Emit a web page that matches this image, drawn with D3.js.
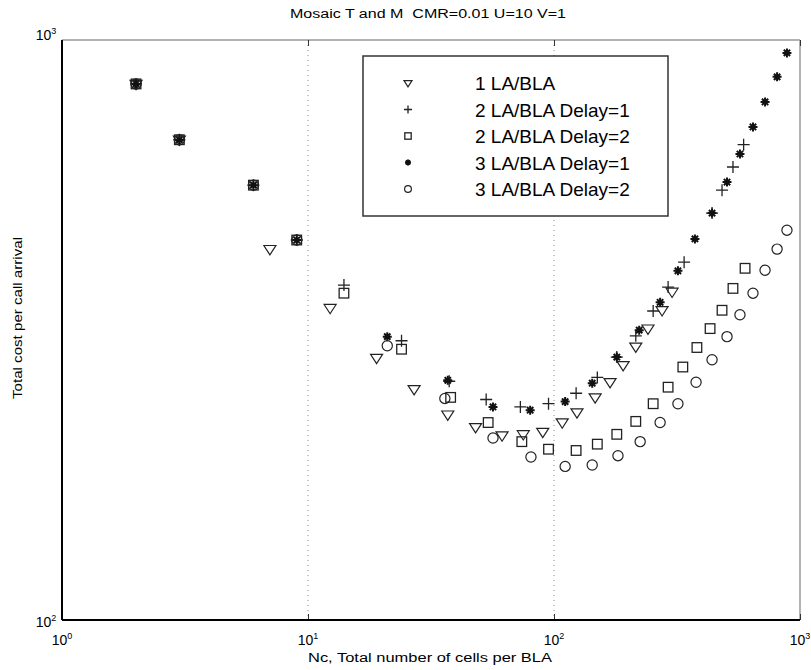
<!DOCTYPE html>
<html>
<head>
<meta charset="utf-8">
<script src="https://cdn.jsdelivr.net/npm/d3@7"></script>
<style>
  body { margin: 0; background: #fff; }
  text { font-family: "Liberation Sans", Arial, sans-serif; fill: #000; white-space: pre; }
</style>
</head>
<body>
<script>
// 1 LA/BLA (triangles)
var tri_x = [2, 3, 7, 12.3, 19, 27, 37, 48, 61.5, 75, 90, 108, 124, 147, 169, 191, 215, 241, 275, 302];
var tri_y = [840, 673, 436, 345, 283, 250, 226, 215, 208, 209, 211, 219, 228, 242, 257, 275, 296, 318, 342, 368];
// 2 LA/BLA Delay=1 (plus)
var plus_x = [2, 3, 6, 9, 14, 24, 37.5, 53, 73, 95, 123, 150, 180, 215, 253, 291, 338, 439, 482, 534, 590];
var plus_y = [840, 673, 562, 452, 378, 303, 258, 240, 233, 236, 246, 262, 284, 309, 341, 375, 414, 503, 551, 604, 660];
// 2 LA/BLA Delay=2 (squares)
var sq_x = [2, 3, 6, 9, 14, 24, 38, 54, 74, 95, 123, 150, 180, 215, 253, 291, 334, 381, 431, 482, 534, 598];
var sq_y = [840, 673, 562, 452, 366, 293, 242, 219, 203, 197, 196, 201, 209, 220, 236, 252, 273, 295, 318, 342, 373, 404];
// 3 LA/BLA Delay=1 (stars)
var star_x = [2, 3, 6, 9, 21, 37, 56.5, 80, 111, 143, 180, 222, 270, 319, 374, 439, 505, 570, 644, 721, 807, 885];
var star_y = [840, 673, 562, 452, 308, 259, 233, 230, 238, 256, 284, 316, 353, 400, 454, 503, 569, 636, 708, 782, 864, 950];
// 3 LA/BLA Delay=2 (circles)
var circ_x = [2, 3, 6, 9, 21, 36, 56.5, 80.6, 111, 143, 182, 224, 270, 319, 378, 439, 505, 570, 644, 721, 807, 885];
var circ_y = [840, 673, 562, 452, 297, 241, 206, 191, 184, 185, 192, 203, 219, 236, 257, 281, 308, 336, 366, 401, 436, 470];

var seriesNames = ["1 LA/BLA", "2 LA/BLA Delay=1", "2 LA/BLA Delay=2", "3 LA/BLA Delay=1", "3 LA/BLA Delay=2"];
var seriesKinds = ["tri", "plus", "square", "star", "circle"];
var xTicks = [1, 10, 100, 1000];
var yTicks = [100, 1000];

var series = [
  {kind: "tri", x: tri_x, y: tri_y},
  {kind: "plus", x: plus_x, y: plus_y},
  {kind: "square", x: sq_x, y: sq_y},
  {kind: "star", x: star_x, y: star_y},
  {kind: "circle", x: circ_x, y: circ_y}
];

var W = 811, H = 670;
var margin = {top: 40, right: 11, bottom: 50, left: 62};
var width = W - margin.left - margin.right;
var height = H - margin.top - margin.bottom;

var xScale = d3.scaleLog().domain([1, 1000]).range([0, width]);
var yScale = d3.scaleLog().domain([100, 1000]).range([height, 0]);

var svg = d3.select("body").append("svg")
    .attr("width", W)
    .attr("height", H);
var g = svg.append("g")
    .attr("transform", "translate(" + margin.left + "," + margin.top + ")");

// dotted grid at decades (x only)
g.selectAll(".grid")
    .data(xTicks.slice(1, -1))
  .enter().append("line")
    .attr("x1", function(d) { return xScale(d); })
    .attr("x2", function(d) { return xScale(d); })
    .attr("y1", 0).attr("y2", height)
    .attr("stroke", "#888")
    .attr("stroke-width", 1)
    .attr("stroke-dasharray", "1,4");

// frame: top/right grey, left/bottom black
g.append("line").attr("x1", 0).attr("x2", width).attr("y1", 0).attr("y2", 0)
    .attr("stroke", "#999").attr("stroke-width", 1.5);
g.append("line").attr("x1", width).attr("x2", width).attr("y1", 0).attr("y2", height)
    .attr("stroke", "#999").attr("stroke-width", 1.5);

// inward ticks
var xAxisB = d3.axisBottom(xScale).tickValues(xTicks).tickSize(-6).tickFormat("");
var xAxisT = d3.axisTop(xScale).tickValues(xTicks).tickSize(-6).tickFormat("");
g.append("g").attr("transform", "translate(0," + height + ")").call(xAxisB)
    .call(function(s) { s.select(".domain").remove(); s.selectAll("line").attr("stroke", "#333"); });
g.append("g").call(xAxisT)
    .call(function(s) { s.select(".domain").remove(); s.selectAll("line").attr("stroke", "#333"); });

g.append("line").attr("x1", 0).attr("x2", 0).attr("y1", 0).attr("y2", height)
    .attr("stroke", "#000").attr("stroke-width", 2);
g.append("line").attr("x1", 0).attr("x2", width).attr("y1", height).attr("y2", height)
    .attr("stroke", "#000").attr("stroke-width", 2);

function powLabel(sel, exp) {
  sel.append("tspan").text("10");
  sel.append("tspan").attr("dy", -6).attr("font-size", 9).text(exp);
}

xTicks.forEach(function(t) {
  var tx = g.append("text")
      .attr("x", xScale(t))
      .attr("y", height + 25)
      .attr("text-anchor", "middle")
      .attr("font-size", 14)
      .attr("fill", "#222");
  powLabel(tx, Math.round(Math.log10(t)));
});
yTicks.forEach(function(t) {
  var ty = g.append("text")
      .attr("x", -16)
      .attr("y", yScale(t) + (t === 100 ? 7 : 0))
      .attr("text-anchor", "middle")
      .attr("font-size", 14)
      .attr("fill", "#222");
  powLabel(ty, Math.round(Math.log10(t)));
});

// titles
svg.append("text")
    .attr("x", 428).attr("y", 18)
    .attr("text-anchor", "middle")
    .attr("font-size", 12)
    .attr("textLength", 276).attr("lengthAdjust", "spacingAndGlyphs")
    .text("Mosaic T and M  CMR=0.01 U=10 V=1");
svg.append("text")
    .attr("x", 430).attr("y", 662)
    .attr("text-anchor", "middle")
    .attr("font-size", 12)
    .attr("textLength", 244).attr("lengthAdjust", "spacingAndGlyphs")
    .text("Nc, Total number of cells per BLA");
svg.append("text")
    .attr("transform", "translate(22,318) rotate(-90)")
    .attr("text-anchor", "middle")
    .attr("font-size", 12)
    .attr("textLength", 162).attr("lengthAdjust", "spacingAndGlyphs")
    .text("Total cost per call arrival");

// marker drawing
function drawMarker(sel, kind, r) {
  if (kind === "tri") {
    sel.append("path")
        .attr("d", "M" + (-r) + "," + (-r * 0.6) + "L" + r + "," + (-r * 0.6) + "L0," + (r * 0.95) + "Z")
        .attr("fill", "none").attr("stroke", "#222").attr("stroke-width", 1.2);
  } else if (kind === "plus") {
    sel.append("path")
        .attr("d", "M" + (-r) + ",0H" + r + "M0," + (-r) + "V" + r)
        .attr("fill", "none").attr("stroke", "#222").attr("stroke-width", 1.3);
  } else if (kind === "square") {
    var s = r * 0.8;
    sel.append("rect")
        .attr("x", -s).attr("y", -s).attr("width", 2 * s).attr("height", 2 * s)
        .attr("fill", "none").attr("stroke", "#222").attr("stroke-width", 1.3);
  } else if (kind === "star") {
    var a = r * 0.75, b = a * 0.7;
    sel.append("path")
        .attr("d", "M" + (-a) + ",0H" + a + "M0," + (-a) + "V" + a +
             "M" + (-b) + "," + (-b) + "L" + b + "," + b + "M" + (-b) + "," + b + "L" + b + "," + (-b))
        .attr("fill", "none").attr("stroke", "#111").attr("stroke-width", 2);
    sel.append("circle").attr("r", a * 0.45).attr("fill", "#111");
  } else if (kind === "circle") {
    sel.append("circle").attr("r", r * 0.85)
        .attr("fill", "none").attr("stroke", "#222").attr("stroke-width", 1.2);
  }
}

series.forEach(function(s) {
  var pts = s.x.map(function(v, i) { return {x: v, y: s.y[i]}; });
  g.selectAll(".pt-" + s.kind)
      .data(pts)
    .enter().append("g")
      .attr("class", "pt-" + s.kind)
      .attr("transform", function(d) { return "translate(" + xScale(d.x) + "," + yScale(d.y) + ")"; })
      .each(function() { drawMarker(d3.select(this), s.kind, 6); });
});

// legend
var leg = svg.append("g").attr("transform", "translate(363,56)");
leg.append("rect")
    .attr("width", 305).attr("height", 160)
    .attr("fill", "#fff").attr("stroke", "#333").attr("stroke-width", 1.5);
seriesNames.forEach(function(name, i) {
  var yy = 27 + i * 26.5;
  var m = leg.append("g").attr("transform", "translate(45," + yy + ")");
  drawMarker(m, seriesKinds[i], 4);
  leg.append("text")
      .attr("x", 112).attr("y", yy + 7)
      .attr("font-size", 19)
      .text(name);
});
</script>
</body>
</html>
